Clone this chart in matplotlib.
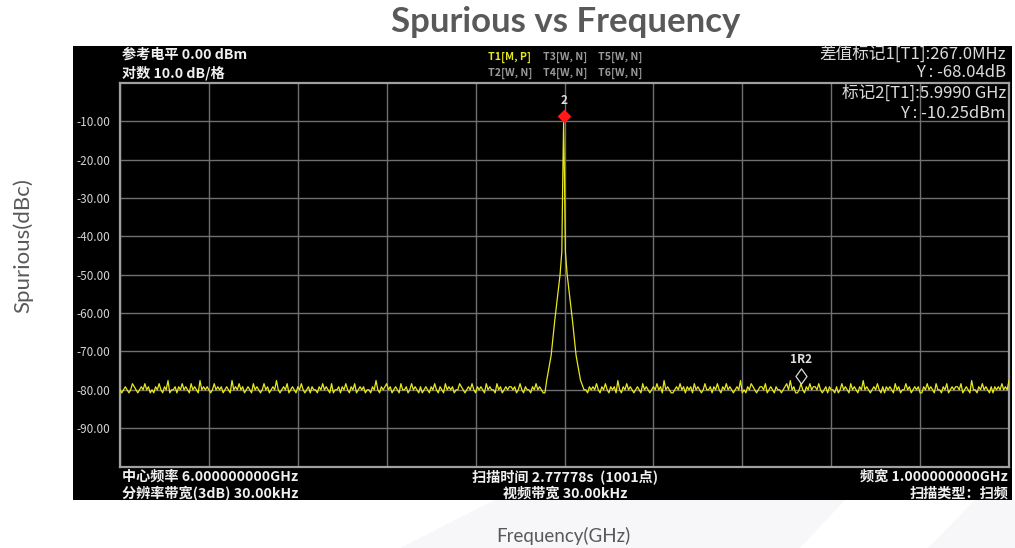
import numpy as np
import matplotlib
matplotlib.use("Agg")
import matplotlib.pyplot as plt
from matplotlib.patches import Rectangle, Polygon
from matplotlib.path import Path
from matplotlib.transforms import offset_copy

W, H = 1015, 548

# noise floor, one digit per 2 MHz point: dBm = -82.4 + 0.8*d
noise_left = ("3234323543" "2343534232" "4353243623" "3424353432" "5343263434"
              "3235343423" "4326343534" "2343253432" "3534234363" "2343523432"
              "4353234243" "3243534325" "2334243532" "4352343423" "3243632434"
              "5342343253" "3423534324" "2343243532" "4325343423" "3543234353"
              "2434325343" "3253423434" "4342353243" "3243534322")
noise_right = ("3324343532" "4353243426" "3243534323" "4325343234" "3534263432"
               "2343534243" "4253432353" "3424353243" "5343234362" "3243543234"
               "4352343243" "3234536342" "2353243534" "4353234243" "3242353432"
               "5343243634" "3234353242" "4343253423" "3534234342" "2435343253"
               "3243523434" "4352343263" "3243534324" "2434353436")
left_start, right_start, step = 5.500, 6.022, 0.002

# carrier skirt
peak_freq = [5.980, 5.985, 5.989, 5.995, 5.997, 5.998, 5.999,
             6.000, 6.001, 6.003, 6.009, 6.013, 6.018]
peak_level = [-77.5, -71, -62, -50, -44, -25.5, -10.25,
              -25.5, -44, -50, -62, -71, -77.5]

# markers
m2_freq, m2_level = 5.999, -10.25
m1_freq, m1_level = 6.266, -78.29

ytick_vals = [-10, -20, -30, -40, -50, -60, -70, -80, -90]
ytick_labels = ["%.2f" % v for v in ytick_vals]
xgrid_vals = [5.5 + 0.1 * k for k in range(11)]

cjk = ["Noto Sans CJK SC", "DejaVu Sans"]


def decode(s, start):
    lv = [-82.4 + 0.8 * int(c) for c in s]
    fr = [start + step * i for i in range(len(lv))]
    return fr, lv


fl, ll = decode(noise_left, left_start)
fr, lr = decode(noise_right, right_start)
freq = np.array(fl + peak_freq + fr)
level = np.array(ll + peak_level + lr)


def px(x, y):
    return x / W, 1 - y / H


fig = plt.figure(figsize=(W / 100, H / 100), dpi=100)
fig.patch.set_facecolor("white")

# faint background bands
for poly in [[(495, 500), (845, 500), (800, 548), (400, 548)],
             [(975, 500), (1015, 500), (1015, 548), (928, 548)]]:
    fig.add_artist(Polygon([px(*p) for p in poly], closed=True, transform=fig.transFigure,
                           facecolor="#f7f7f9", edgecolor="none", zorder=-2))

# instrument screen
x0, y0 = px(73, 500)
fig.add_artist(Rectangle((x0, y0), (1012 - 73) / W, (500 - 46) / H,
                         transform=fig.transFigure, facecolor="black",
                         edgecolor="none", zorder=-1))

ax = fig.add_axes([120 / W, 1 - 466.5 / H, 889 / W, 383.5 / H])
ax.set_facecolor("black")
ax.set_xlim(5.5, 6.5)
ax.set_ylim(-100, 0)
ax.set_xticks(xgrid_vals)
ax.set_xticklabels([])
ax.set_yticks(ytick_vals)
ax.set_yticklabels(ytick_labels, color="#d4d4d4", fontsize=8.5, family=cjk)
ax.tick_params(length=0, pad=7)
ax.grid(True, color="#707070", linewidth=1.0)
for s in ax.spines.values():
    s.set_color("#a0a0a0")
    s.set_linewidth(1.6)

ax.plot(freq, level, color="#e8e81c", linewidth=0.9, zorder=3)

# marker 2 (red diamond) sitting on the peak
dia = Path([(0, 1), (1, 0), (0, -1), (-1, 0), (0, 1)],
           [Path.MOVETO, Path.LINETO, Path.LINETO, Path.LINETO, Path.CLOSEPOLY])
tall = Path([(0, 1), (0.72, 0), (0, -1), (-0.72, 0), (0, 1)],
            [Path.MOVETO, Path.LINETO, Path.LINETO, Path.LINETO, Path.CLOSEPOLY])
ax.plot([m2_freq], [m2_level], marker=dia, markersize=8.5, color="#ff1a1a",
        markeredgecolor="#ff1a1a", linestyle="none", zorder=5,
        transform=offset_copy(ax.transData, fig=fig, y=6, units="dots"))
ax.annotate("2", (m2_freq, m2_level), xytext=(0, 15), textcoords="offset pixels",
            ha="center", va="bottom", color="#e0e0e0", fontsize=8.5, fontweight="bold",
            family=cjk)
ax.plot([m1_freq], [m1_level], marker=tall, markersize=11, markerfacecolor="none",
        markeredgecolor="#d8d8d8", markeredgewidth=0.9, linestyle="none", zorder=5,
        transform=offset_copy(ax.transData, fig=fig, y=7.5, units="dots"))
ax.annotate("1R2", (m1_freq, m1_level), xytext=(0, 17), textcoords="offset pixels",
            ha="center", va="bottom", color="#e0e0e0", fontsize=8.5, fontweight="bold",
            family=cjk)

# screen annotations
white = "#f0f0f0"
bold_size = 10.2
fig.text(*px(122, 55), "参考电平 0.00 dBm", ha="left", va="center", color=white,
         fontsize=bold_size, fontweight="bold", family=cjk)
fig.text(*px(122, 73), "对数 10.0 dB/格", ha="left", va="center", color=white,
         fontsize=bold_size, fontweight="bold", family=cjk)

tr_rows = [[("T1[M, P]", "#e8e81c"), ("T3[W, N]", "#9a9a9a"), ("T5[W, N]", "#9a9a9a")],
           [("T2[W, N]", "#9a9a9a"), ("T4[W, N]", "#9a9a9a"), ("T6[W, N]", "#9a9a9a")]]
for row, yy in zip(tr_rows, [57, 73]):
    for (txt, c), xx in zip(row, [488, 543, 598]):
        fig.text(*px(xx, yy), txt, ha="left", va="center", color=c,
                 fontsize=7.6, fontweight="bold", family=cjk)

for txt, yy in [("差值标记1[T1]:267.0MHz", 54), ("Y : -68.04dB", 72),
                ("标记2[T1]:5.9990 GHz", 93), ("Y : -10.25dBm", 113)]:
    fig.text(*px(1006, yy), txt, ha="right", va="center", color="#dcdcdc",
             fontsize=12, family=cjk)

bottom_rows = [(122, "left", "中心频率 6.000000000GHz", "分辨率带宽(3dB) 30.00kHz"),
               (565, "center", "扫描时间 2.77778s  (1001点)", "视频带宽 30.00kHz"),
               (1008, "right", "频宽 1.000000000GHz", "扫描类型：扫频")]
for xx, ha, top, bot in bottom_rows:
    fig.text(*px(xx, 477), top, ha=ha, va="center", color=white,
             fontsize=bold_size, fontweight="bold", family=cjk)
    fig.text(*px(xx, 493.5), bot, ha=ha, va="center", color=white,
             fontsize=bold_size, fontweight="bold", family=cjk)

# chart title and axis labels
fig.text(*px(566, 22), "Spurious vs Frequency", ha="center", va="center",
         color="#595959", fontsize=25, fontweight="bold", family="Lato")
fig.text(*px(23, 246), "Spurious(dBc)", ha="center", va="center", rotation=90,
         color="#595959", fontsize=16, family="Lato")
fig.text(*px(563, 536), "Frequency(GHz)", ha="center", va="center",
         color="#595959", fontsize=13.5, family="Lato")

fig.savefig("out.png", dpi=100, facecolor="white")
